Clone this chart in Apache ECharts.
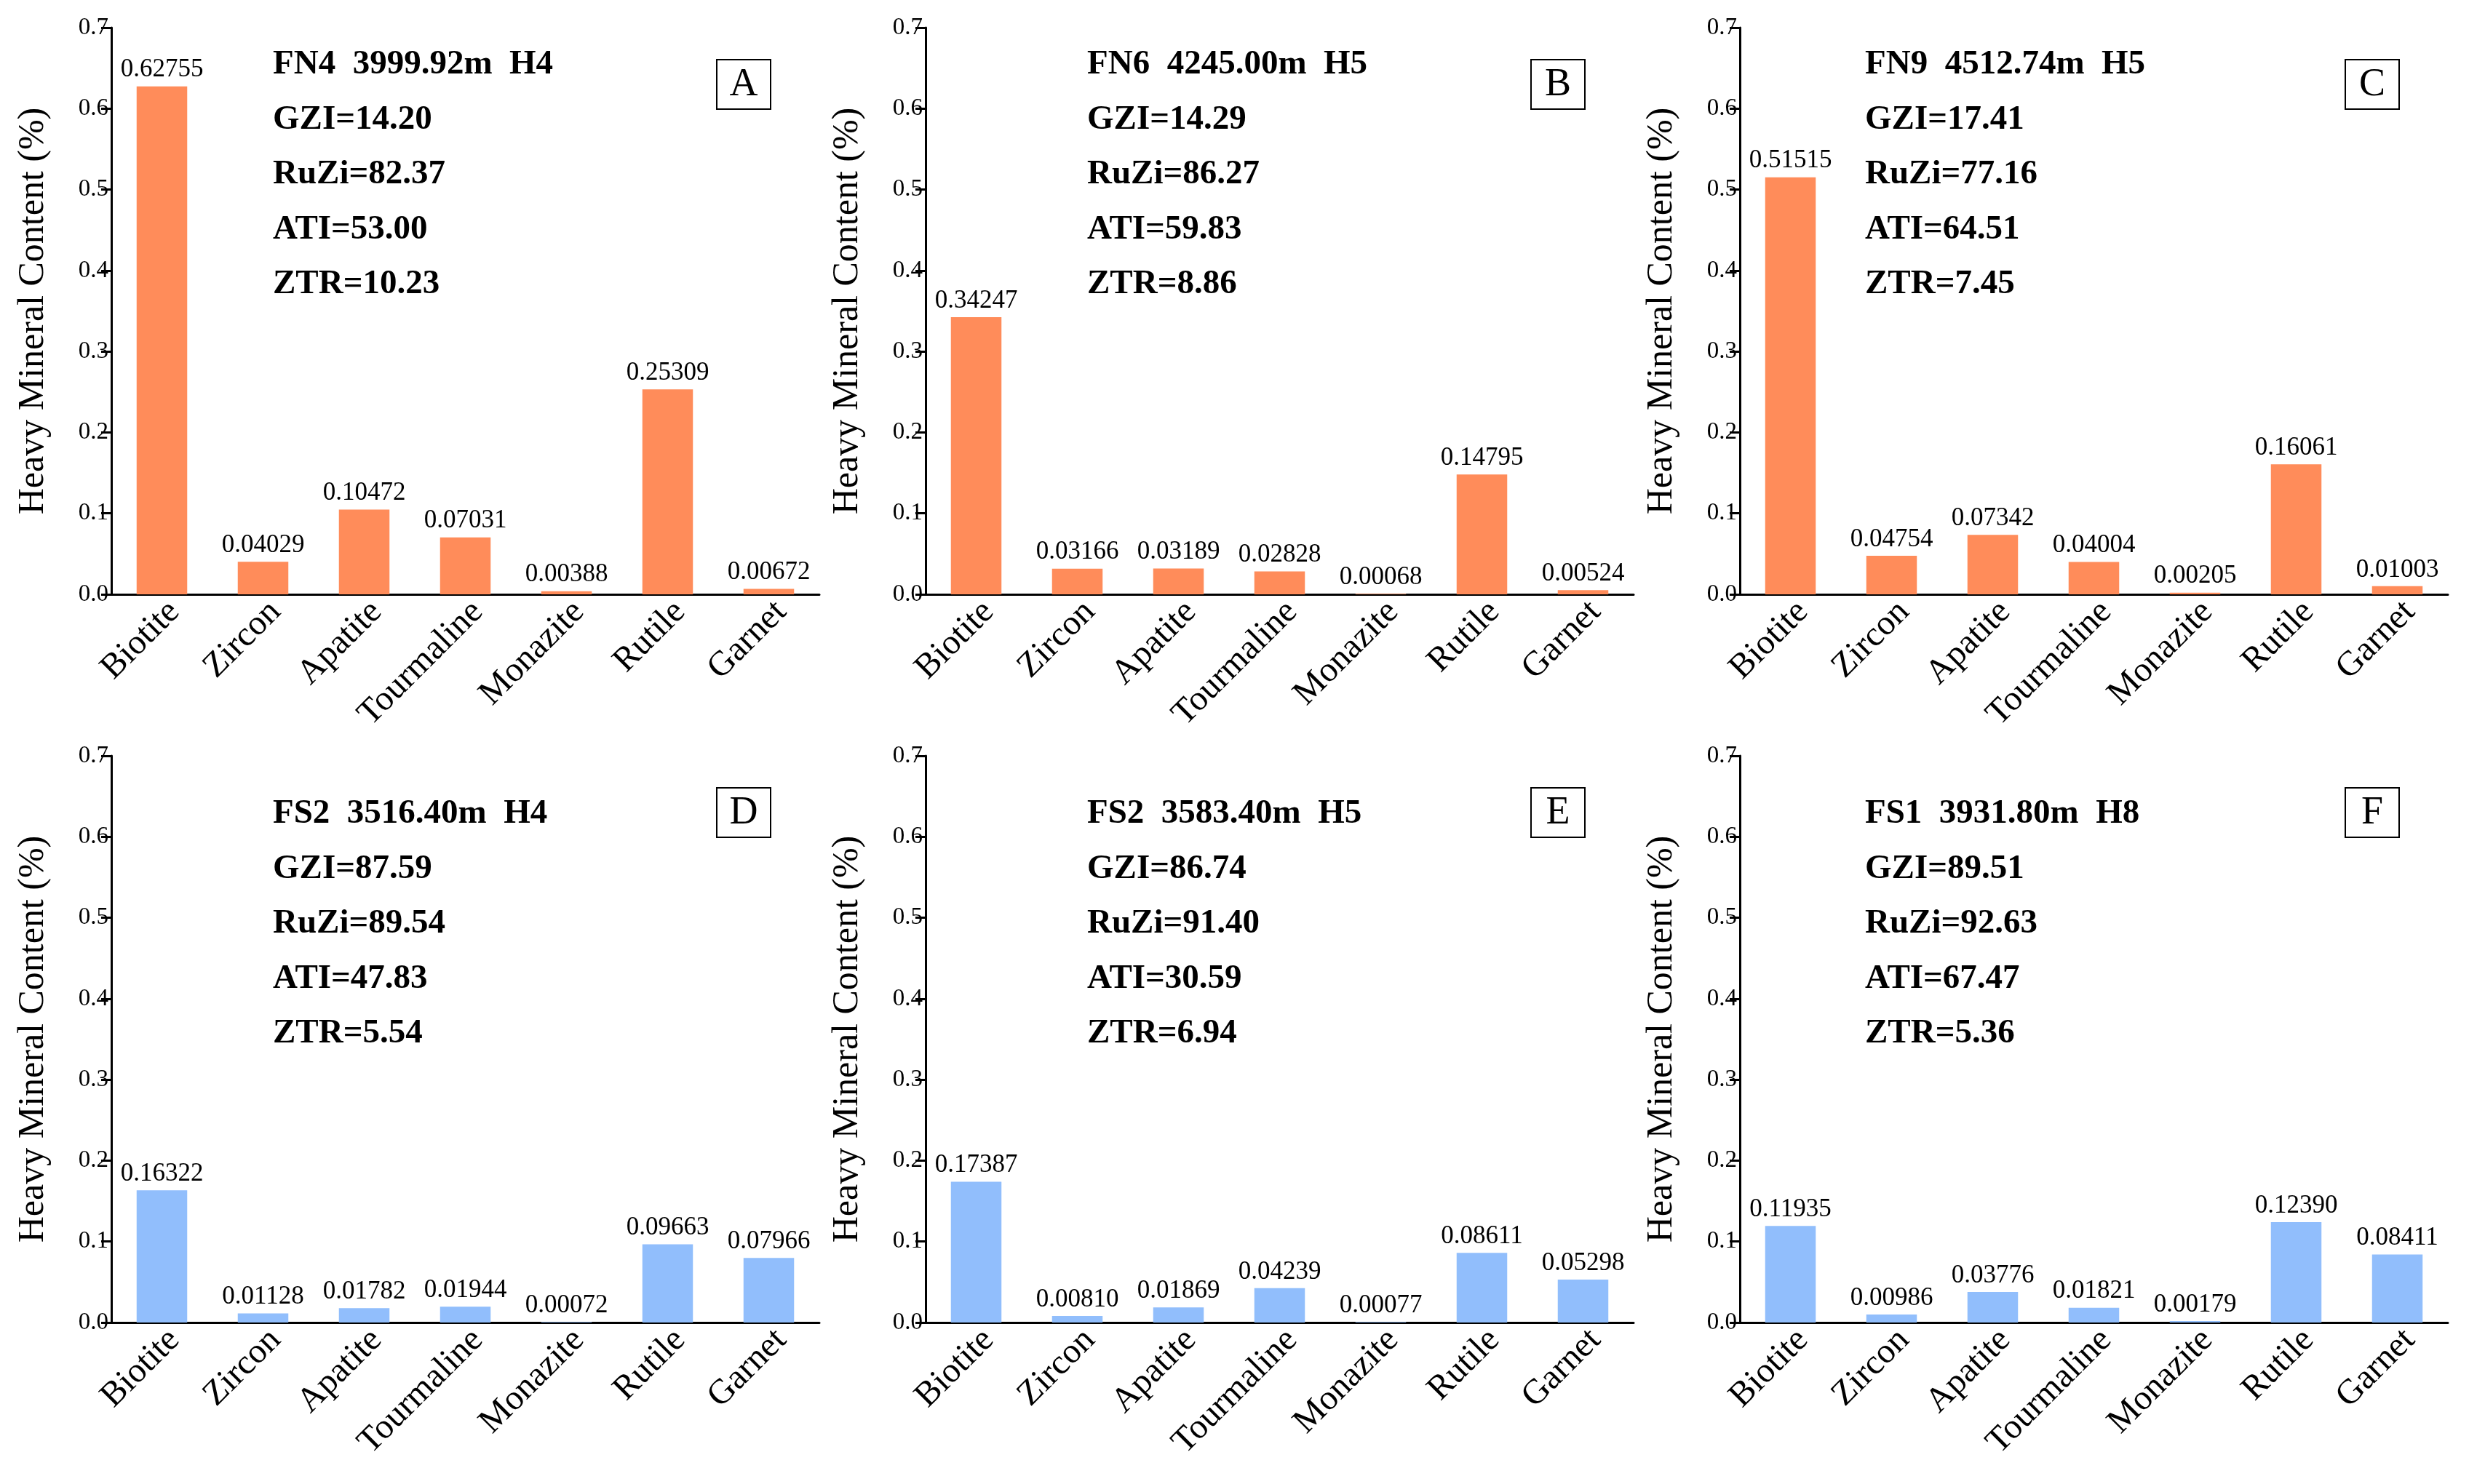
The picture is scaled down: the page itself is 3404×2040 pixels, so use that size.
<!DOCTYPE html>
<html>
  <head>
    <meta charset="utf-8" />
    <script src="https://cdn.jsdelivr.net/npm/echarts@6/dist/echarts.min.js"></script>
    <title>Heavy Mineral Content</title>
    <style>
      html, body { margin: 0; padding: 0; background: #fff; }
      #chart { width: 3404px; height: 2040px; }
    </style>
  </head>
  <body>
    <div id="chart"></div>
    <script>
      // categories and per-panel values (%)
      var minerals = ['Biotite', 'Zircon', 'Apatite', 'Tourmaline', 'Monazite', 'Rutile', 'Garnet']
      var valuesA = [0.62755, 0.04029, 0.10472, 0.07031, 0.00388, 0.25309, 0.00672]
      var valuesB = [0.34247, 0.03166, 0.03189, 0.02828, 0.00068, 0.14795, 0.00524]
      var valuesC = [0.51515, 0.04754, 0.07342, 0.04004, 0.00205, 0.16061, 0.01003]
      var valuesD = [0.16322, 0.01128, 0.01782, 0.01944, 0.00072, 0.09663, 0.07966]
      var valuesE = [0.17387, 0.0081, 0.01869, 0.04239, 0.00077, 0.08611, 0.05298]
      var valuesF = [0.11935, 0.00986, 0.03776, 0.01821, 0.00179, 0.1239, 0.08411]

      var panelLetters = ['A', 'B', 'C', 'D', 'E', 'F']
      var sampleNames = [
        'FN4  3999.92m  H4',
        'FN6  4245.00m  H5',
        'FN9  4512.74m  H5',
        'FS2  3516.40m  H4',
        'FS2  3583.40m  H5',
        'FS1  3931.80m  H8'
      ]
      var gziList = ['14.20', '14.29', '17.41', '87.59', '86.74', '89.51']
      var ruziList = ['82.37', '86.27', '77.16', '89.54', '91.40', '92.63']
      var atiList = ['53.00', '59.83', '64.51', '47.83', '30.59', '67.47']
      var ztrList = ['10.23', '8.86', '7.45', '5.54', '6.94', '5.36']

      var allValues = [valuesA, valuesB, valuesC, valuesD, valuesE, valuesF]

      var FONT = 'Liberation Serif'
      var colLeft = [153, 1272, 2391]
      var rowTop = [38, 1039]
      var gridW = 973
      var gridH = 779
      var barColors = ['#FF8C5A', '#91BEFC']
      // annotation offsets (x from axis, first line centre y from grid top)
      var textDx = [222, 222, 172]
      var textDy = [51, 80]

      var grids = []
      var xAxes = []
      var yAxes = []
      var series = []
      var graphics = []

      function fmtTick(v) {
        return Number(v).toFixed(1)
      }
      function fmtBar(p) {
        return Number(p.value).toFixed(5)
      }

      for (var i = 0; i < 6; i++) {
        var col = i % 3
        var row = Math.floor(i / 3)
        var gx = colLeft[col]
        var gy = rowTop[row]

        grids.push({ left: gx, top: gy, width: gridW, height: gridH, outerBoundsMode: 'none' })

        xAxes.push({
          type: 'category',
          gridIndex: i,
          data: minerals,
          axisLine: { lineStyle: { color: '#000', width: 3 } },
          axisTick: { show: false },
          axisLabel: {
            interval: 0,
            rotate: 45,
            margin: 0,
            align: 'right',
            verticalAlign: 'top',
            color: '#000',
            fontSize: 48,
            fontFamily: FONT
          }
        })

        yAxes.push({
          type: 'value',
          gridIndex: i,
          min: 0,
          max: 0.7,
          interval: 0.1,
          name: 'Heavy Mineral Content (%)',
          nameLocation: 'middle',
          nameGap: 82,
          nameTextStyle: { color: '#000', fontSize: 50, fontFamily: FONT },
          axisLine: { show: true, lineStyle: { color: '#000', width: 3 } },
          axisTick: { show: true, length: 14, lineStyle: { color: '#000', width: 3 } },
          splitLine: { show: false },
          axisLabel: {
            margin: 4,
            color: '#000',
            fontSize: 33,
            fontFamily: FONT,
            formatter: fmtTick
          }
        })

        series.push({
          type: 'bar',
          xAxisIndex: i,
          yAxisIndex: i,
          data: allValues[i],
          barWidth: '50%',
          itemStyle: { color: barColors[row] },
          label: {
            show: true,
            position: 'top',
            distance: 5,
            color: '#000',
            fontSize: 35,
            fontFamily: FONT,
            formatter: fmtBar
          }
        })

        var lines = [
          sampleNames[i],
          'GZI=' + gziList[i],
          'RuZi=' + ruziList[i],
          'ATI=' + atiList[i],
          'ZTR=' + ztrList[i]
        ]
        for (var k = 0; k < lines.length; k++) {
          graphics.push({
            type: 'text',
            x: gx + textDx[col],
            y: gy + textDy[row] + k * 75.5,
            style: {
              text: lines[k],
              fill: '#000',
              fontSize: 47,
              fontWeight: 'bold',
              fontFamily: FONT,
              verticalAlign: 'middle'
            }
          })
        }

        // boxed panel letter
        graphics.push({
          type: 'rect',
          shape: { x: gx + 832, y: gy + 44, width: 74, height: 68 },
          style: { fill: '#fff', stroke: '#000', lineWidth: 2 }
        })
        graphics.push({
          type: 'text',
          x: gx + 869,
          y: gy + 79,
          style: {
            text: panelLetters[i],
            fill: '#000',
            fontSize: 54,
            fontFamily: FONT,
            align: 'center',
            verticalAlign: 'middle'
          }
        })
      }

      var chart = echarts.init(document.getElementById('chart'))
      chart.setOption({
        animation: false,
        backgroundColor: '#fff',
        grid: grids,
        xAxis: xAxes,
        yAxis: yAxes,
        series: series,
        graphic: { elements: graphics }
      })
    </script>
  </body>
</html>
